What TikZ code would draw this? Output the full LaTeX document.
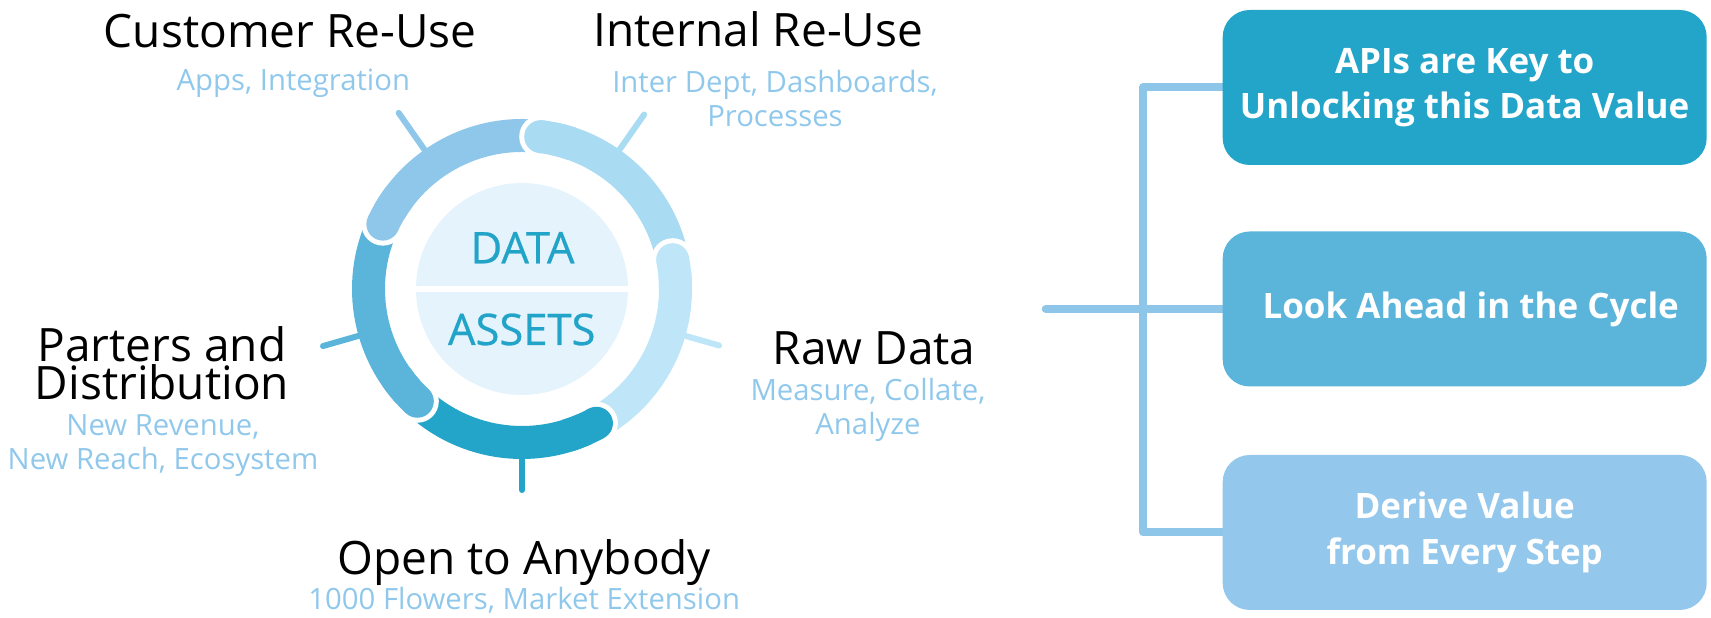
\documentclass[tikz,border=0pt]{standalone}
\usepackage{fontspec}
\setmainfont{Open Sans}
\newfontfamily\corefont[FakeBold=0.6]{Open Sans}
\usetikzlibrary{backgrounds}
\definecolor{cCust}{HTML}{8FC7EB}
\definecolor{cInt}{HTML}{A9DBF3}
\definecolor{cRaw}{HTML}{BEE6F8}
\definecolor{cOpen}{HTML}{23A4C9}
\definecolor{cPart}{HTML}{5BB5DB}
\definecolor{cDisk}{HTML}{E4F3FC}
\definecolor{cTeal}{HTML}{22A3C8}
\definecolor{cSub}{HTML}{90C8EC}
\definecolor{cBoxA}{HTML}{23A4C9}
\definecolor{cBoxB}{HTML}{5BB5DB}
\definecolor{cBoxC}{HTML}{93C8EC}
\definecolor{cLink}{HTML}{8EC6EA}
\setlength{\lineskiplimit}{-100pt}
\begin{document}
\begin{tikzpicture}[x=1pt,y=1pt,
  title/.style={font=\fontsize{46}{38.5}\selectfont, text=black, inner sep=0pt, align=center, anchor=base},
  sub/.style={font=\fontsize{29.3}{34.5}\selectfont, text=cSub, inner sep=0pt, align=center, anchor=base},
  card/.style={rounded corners=27pt, minimum width=484pt, minimum height=155pt, text=white, font=\bfseries\fontsize{35}{45.5}\selectfont, align=center, inner sep=0pt},
  link/.style={draw=cLink, line width=8pt, line join=round, line cap=round},
  tickline/.style={line width=6pt, line cap=round},
  seg/.style={line width=33pt},
  core/.style={font=\corefont\fontsize{43.5}{43.5}\selectfont, text=cTeal, inner sep=0pt, anchor=base}
]
\useasboundingbox (0,0) rectangle (1711,618);

% ---------- right column ----------
\node[card, fill=cBoxA] (b1) at (1464.7,530.5) {APIs are Key to\\Unlocking this Data Value};
\node[card, fill=cBoxB] (b2) at (1464.7,309) {\hspace*{12pt}Look Ahead in the Cycle};
\node[card, fill=cBoxC] (b3) at (1464.7,85.5) {Derive Value\\from Every Step};
\coordinate (hub) at (1143.3,309);
\coordinate (stub) at (1045.7,309);
\begin{scope}[on background layer]
  \draw[link] (b1.west) -| (hub) |- (b3.west);
  \draw[link] (stub) -- (b2.west);
\end{scope}

% ---------- cycle ----------
\coordinate (ctr) at (522,329);
\foreach \a/\r/\c in {125/215/cCust, 55/213/cInt, -16/205/cRaw, -90/201/cOpen, 196/207/cPart}
  \draw[tickline, draw=\c, shift={(ctr)}] (\a:150) -- (\a:\r);

\foreach \s/\c in {83/cInt, 11/cRaw, -61/cOpen, -133/cPart, -205/cCust}
  \draw[seg, draw=\c, shift={(ctr)}] (\s:153.5) arc[start angle=\s, end angle=\s-72, radius=153.5pt];

\foreach \s/\c in {83/cInt, 11/cRaw, -61/cOpen, -133/cPart, -205/cCust} {
  \fill[white, shift={(ctr)}] (\s:153.5) circle[radius=21.5pt];
  \draw[seg, draw=\c, shift={(ctr)}] (\s:153.5) arc[start angle=\s, end angle=\s-12, radius=153.5pt];
  \fill[\c, shift={(ctr)}] (\s:153.5) circle[radius=16.5pt];
}

\node[circle, fill=cDisk, minimum size=212pt, inner sep=0pt] (disk) at (ctr) {};
\draw[white, line width=6pt] (disk.west) -- (disk.east);
\node[core] (data) at (522.5,354.7) {DATA};
\node[core] (assets) at (521.7,273) {ASSETS};

% ---------- labels ----------
\node[title] (tcust) at (290.3,570.3) {Customer Re-Use};
\node[sub] (scust) at (293.3,527) {Apps, Integration};
\node[title] (tint) at (758.3,571.3) {Internal Re-Use};
\node[sub] (sint) at (775,491.3) {Inter Dept, Dashboards,\\Processes};
\node[title] (tpart) at (162,218) {Parters and\\Distribution};
\node[sub] (spart) at (163,148) {New Revenue,\\New Reach, Ecosystem};
\node[title] (traw) at (874.2,253) {Raw Data};
\node[sub] (sraw) at (868,183) {Measure, Collate,\\Analyze};
\node[title] (topen) at (524.2,43) {Open to Anybody};
\node[sub] (sopen) at (524.2,8) {1000 Flowers, Market Extension};
\end{tikzpicture}
\end{document}
